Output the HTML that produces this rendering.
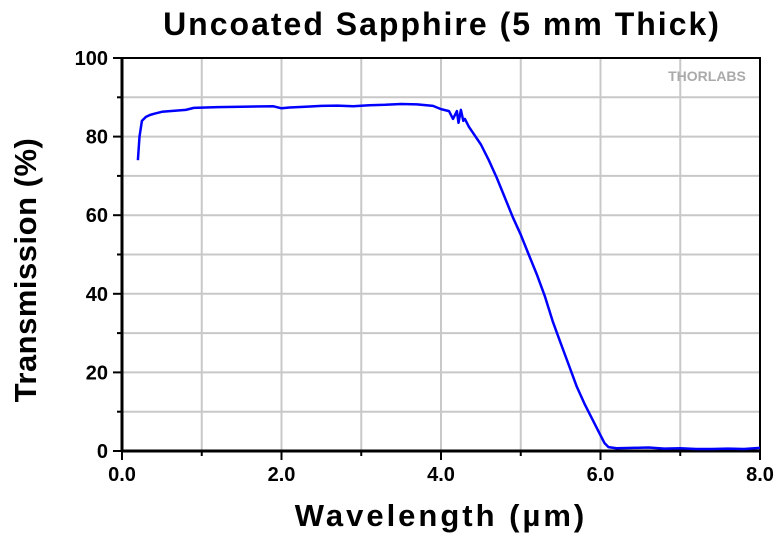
<!DOCTYPE html>
<html><head><meta charset="utf-8"><style>
body{margin:0;background:#fff;width:780px;height:534px;overflow:hidden;font-family:"Liberation Sans",sans-serif}
</style></head><body>
<svg id="chart" width="780" height="534" xmlns="http://www.w3.org/2000/svg" font-family="Liberation Sans, sans-serif">
<text x="442" y="35" text-anchor="middle" font-size="32" font-weight="bold" letter-spacing="2">Uncoated Sapphire (5 mm Thick)</text>
<text x="441" y="526" text-anchor="middle" font-size="31" font-weight="bold" letter-spacing="3">Wavelength (µm)</text>
<text transform="translate(36,270) rotate(-90)" text-anchor="middle" font-size="31" font-weight="bold" letter-spacing="0.5">Transmission (%)</text>
<g id="grid"></g><g id="axes"></g><g id="series"></g>
<text x="707" y="81" text-anchor="middle" font-size="14" font-weight="bold" fill="#aaa">THORLABS</text>
</svg>
<script>
const xTicks=[0,2,4,6,8];
const xTickLabels=["0.0","2.0","4.0","6.0","8.0"];
const yTicks=[0,20,40,60,80,100];
const yTickLabels=["0","20","40","60","80","100"];
const wavelength=[0.2,0.22,0.25,0.3,0.35,0.4,0.5,0.6,0.8,0.9,1.2,1.5,1.9,2.0,2.1,2.3,2.5,2.7,2.9,3.1,3.3,3.5,3.7,3.9,4.0,4.1,4.15,4.2,4.22,4.25,4.28,4.3,4.35,4.4,4.5,4.6,4.7,4.8,4.9,5.0,5.1,5.2,5.3,5.4,5.5,5.6,5.7,5.8,5.9,6.0,6.05,6.1,6.2,6.4,6.6,6.8,7.0,7.2,7.4,7.6,7.8,8.0];
const transmission=[74,80,84,85,85.5,85.8,86.3,86.5,86.8,87.3,87.5,87.6,87.7,87.2,87.4,87.6,87.8,87.9,87.7,88,88.1,88.3,88.2,87.8,87,86.5,84.5,86.5,83.5,86.8,84,84.5,82.5,81,78,74,69.5,64.5,59.5,55,50,45,39.5,33,27.5,22,16.5,12,8,4,2,1,0.7,0.8,0.9,0.6,0.7,0.5,0.5,0.6,0.5,0.8];
const X0=122,X1=760,Y0=451,Y1=58;
const sx=v=>X0+(v-0)/(8-0)*(X1-X0);
const sy=v=>Y0-(v-0)/(100-0)*(Y0-Y1);
const NS="http://www.w3.org/2000/svg";
const mk=(t,a,p)=>{const e=document.createElementNS(NS,t);for(const k in a)e.setAttribute(k,a[k]);p.appendChild(e);return e;};
const grid=document.getElementById('grid'),axes=document.getElementById('axes'),ser=document.getElementById('series');
for(let v=1;v<8;v++){const l=mk('line',{x1:sx(v),x2:sx(v),y1:Y1,y2:Y0,stroke:'#c8c8c8','stroke-width':2},grid);

}
for(let v=10;v<100;v+=10){const l=mk('line',{x1:X0,x2:X1,y1:sy(v),y2:sy(v),stroke:'#c8c8c8','stroke-width':2},grid);

}
const box=mk('rect',{x:X0,y:Y1,width:X1-X0,height:Y0-Y1,fill:'none',stroke:'#000','stroke-width':2},axes);


mk('line',{x1:X0,x2:X0,y1:Y1,y2:Y0,stroke:'#000','stroke-width':3},axes);
mk('line',{x1:X0,x2:X1,y1:Y0,y2:Y0,stroke:'#000','stroke-width':3},axes);
for(let v=0;v<=8;v++){mk('line',{x1:sx(v),x2:sx(v),y1:Y0,y2:Y0+(v%2?5:9),stroke:'#000','stroke-width':2},axes);}
for(let v=0;v<=100;v+=10){mk('line',{x1:X0-(v%20?5:9),x2:X0,y1:sy(v),y2:sy(v),stroke:'#000','stroke-width':2},axes);}
xTicks.forEach((v,i)=>{const t=mk('text',{x:sx(v),y:Y0+30,'text-anchor':'middle','font-size':20,'font-weight':'bold'},axes);t.textContent=xTickLabels[i];

});
yTicks.forEach((v,i)=>{const t=mk('text',{x:X0-14,y:sy(v)+7,'text-anchor':'end','font-size':20,'font-weight':'bold'},axes);t.textContent=yTickLabels[i];

});
const d=wavelength.map((w,i)=>(i?'L':'M')+sx(w).toFixed(1)+','+sy(transmission[i]).toFixed(1)).join(' ');
const p=mk('path',{d:d,fill:'none',stroke:'#0000ff','stroke-width':2.5,'stroke-linejoin':'round'},ser);


</script>
</body></html>
